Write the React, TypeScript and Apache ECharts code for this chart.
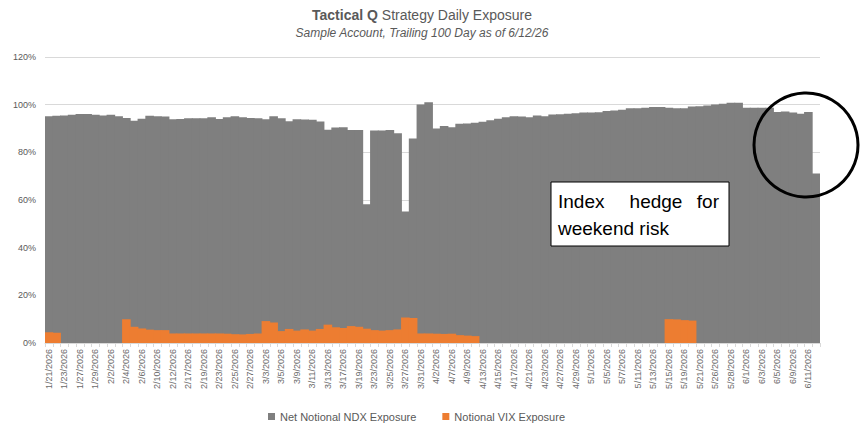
import React, { useEffect, useRef } from "react";
import * as echarts from "echarts";

const dates = [
  "1/21/2026","1/22/2026","1/23/2026","1/26/2026","1/27/2026","1/28/2026","1/29/2026","1/30/2026",
  "2/2/2026","2/3/2026","2/4/2026","2/5/2026","2/6/2026","2/9/2026","2/10/2026","2/11/2026","2/12/2026","2/13/2026",
  "2/17/2026","2/18/2026","2/19/2026","2/20/2026","2/23/2026","2/24/2026","2/25/2026","2/26/2026","2/27/2026",
  "3/2/2026","3/3/2026","3/4/2026","3/5/2026","3/6/2026","3/9/2026","3/10/2026","3/11/2026","3/12/2026","3/13/2026",
  "3/16/2026","3/17/2026","3/18/2026","3/19/2026","3/20/2026","3/23/2026","3/24/2026","3/25/2026","3/26/2026","3/27/2026",
  "3/30/2026","3/31/2026","4/1/2026","4/2/2026","4/6/2026","4/7/2026","4/8/2026","4/9/2026","4/10/2026",
  "4/13/2026","4/14/2026","4/15/2026","4/16/2026","4/17/2026","4/20/2026","4/21/2026","4/22/2026","4/23/2026","4/24/2026",
  "4/27/2026","4/28/2026","4/29/2026","4/30/2026","5/1/2026","5/4/2026","5/5/2026","5/6/2026","5/7/2026","5/8/2026",
  "5/11/2026","5/12/2026","5/13/2026","5/14/2026","5/15/2026","5/18/2026","5/19/2026","5/20/2026","5/21/2026","5/22/2026",
  "5/26/2026","5/27/2026","5/28/2026","5/29/2026","6/1/2026","6/2/2026","6/3/2026","6/4/2026","6/5/2026",
  "6/8/2026","6/9/2026","6/10/2026","6/11/2026","6/12/2026",
];

const ndxExposure = [
  95.1, 95.3, 95.5, 95.8, 96.1, 96.1, 95.8, 95.5, 95.8, 95.1,
  94.4, 93.3, 94.1, 95.4, 95.1, 95.0, 93.9, 94.0, 94.3, 94.3,
  94.3, 94.7, 94.0, 94.7, 95.1, 94.7, 94.4, 94.3, 93.9, 95.1,
  94.3, 93.0, 93.9, 93.8, 93.7, 92.9, 89.5, 90.4, 90.5, 89.4,
  89.4, 58.2, 89.2, 89.2, 89.4, 88.0, 55.2, 85.8, 100.1, 101.0,
  90.0, 91.0, 90.5, 92.0, 92.1, 92.4, 92.8, 93.5, 94.1, 94.7,
  95.1, 95.0, 94.7, 95.5, 95.1, 95.9, 96.0, 96.2, 96.4, 96.7,
  96.7, 96.8, 97.3, 97.6, 97.9, 98.5, 98.5, 98.7, 99.0, 99.0,
  98.7, 98.5, 98.5, 99.2, 99.3, 99.6, 100.1, 100.4, 100.8, 100.8,
  98.7, 98.7, 98.7, 98.7, 96.9, 97.1, 96.7, 96.2, 96.9, 71.1,
];

const vixExposure = [
  4.5, 4.3, 0, 0, 0, 0, 0, 0, 0, 0,
  10.0, 6.8, 6.1, 5.6, 5.4, 5.4, 4.0, 4.0, 4.0, 4.0,
  4.0, 4.0, 4.0, 3.9, 3.7, 3.6, 3.8, 4.0, 9.2, 8.6,
  5.0, 5.9, 5.2, 5.7, 5.2, 5.9, 7.7, 6.6, 6.3, 7.1,
  6.8, 6.0, 5.4, 5.2, 5.4, 5.7, 10.7, 10.5, 4.0, 4.0,
  3.9, 3.8, 3.9, 3.3, 3.1, 2.9, 0, 0, 0, 0,
  0, 0, 0, 0, 0, 0, 0, 0, 0, 0,
  0, 0, 0, 0, 0, 0, 0, 0, 0, 0,
  10.0, 9.9, 9.6, 9.4, 0, 0, 0, 0, 0, 0,
  0, 0, 0, 0, 0, 0, 0, 0, 0, 0,
];

const seriesNames = ["Net Notional NDX Exposure", "Notional VIX Exposure"];
const titleText = "{b|Tactical Q} Strategy Daily Exposure";
const subtitleText = "Sample Account, Trailing 100 Day as of 6/12/26";

const FONT = "'Liberation Sans', Arial, sans-serif";
const GRAY_TEXT = "#595959";

export default function App() {
  const ref = useRef<HTMLDivElement>(null);
  useEffect(() => {
    document.body.style.margin = "0";
    if (!ref.current) return;
    const chart = echarts.init(ref.current, null, { renderer: "svg" });
    chart.setOption({
      animation: false,
      backgroundColor: "#ffffff",
      textStyle: { fontFamily: FONT },
      title: {
        text: titleText,
        subtext: subtitleText,
        left: 417,
        textAlign: "center",
        top: 3,
        itemGap: 5,
        textStyle: {
          fontSize: 14,
          fontWeight: "normal",
          color: GRAY_TEXT,
          fontFamily: FONT,
          rich: {
            b: { fontSize: 14, fontWeight: "bold", color: GRAY_TEXT, fontFamily: FONT },
          },
        },
        subtextStyle: {
          fontSize: 12,
          fontStyle: "italic",
          color: GRAY_TEXT,
          fontFamily: FONT,
        },
      },
      legend: {
        data: seriesNames,
        top: 406,
        left: 263,
        icon: "rect",
        itemWidth: 7,
        itemHeight: 7,
        itemGap: 26,
        textStyle: { fontSize: 11, color: GRAY_TEXT, fontFamily: FONT },
      },
      grid: { left: 45, right: 46, top: 57, bottom: 97, containLabel: false },
      xAxis: {
        type: "category",
        data: dates,
        axisLine: { lineStyle: { color: "#d9d9d9" } },
        axisTick: { show: true, interval: 0, length: 4, lineStyle: { color: "#d9d9d9" } },
        axisLabel: {
          interval: 1,
          rotate: 90,
          fontSize: 9,
          color: "#6b6b6b",
          margin: 6,
          fontFamily: FONT,
        },
      },
      yAxis: {
        type: "value",
        min: 0,
        max: 120,
        interval: 20,
        axisLine: { show: false },
        axisTick: { show: false },
        splitLine: { lineStyle: { color: "#d9d9d9" } },
        axisLabel: {
          formatter: "{value}%",
          fontSize: 9,
          color: GRAY_TEXT,
          margin: 9,
          fontFamily: FONT,
        },
      },
      series: [
        {
          name: seriesNames[0],
          type: "bar",
          data: ndxExposure,
          barGap: "-100%",
          barWidth: 8.6,
          itemStyle: { color: "#7f7f7f" },
        },
        {
          name: seriesNames[1],
          type: "bar",
          data: vixExposure.map((v) => (v === 0 ? null : v)),
          barGap: "-100%",
          barWidth: 8.6,
          itemStyle: { color: "#ed7d31" },
        },
      ],
      graphic: [
        {
          type: "rect",
          z: 100,
          shape: { x: 551, y: 182, width: 178, height: 64 },
          style: { fill: "#ffffff", stroke: "#000000", lineWidth: 1 },
        },
        {
          type: "text",
          z: 101,
          x: 558,
          y: 201,
          style: { text: "Index", font: `19px ${FONT}`, fill: "#000", textAlign: "left", textVerticalAlign: "middle" },
        },
        {
          type: "text",
          z: 101,
          x: 656,
          y: 201,
          style: { text: "hedge", font: `19px ${FONT}`, fill: "#000", textAlign: "center", textVerticalAlign: "middle" },
        },
        {
          type: "text",
          z: 101,
          x: 719,
          y: 201,
          style: { text: "for", font: `19px ${FONT}`, fill: "#000", textAlign: "right", textVerticalAlign: "middle" },
        },
        {
          type: "text",
          z: 101,
          x: 558,
          y: 228,
          style: { text: "weekend risk", font: `19px ${FONT}`, fill: "#000", textAlign: "left", textVerticalAlign: "middle" },
        },
        {
          type: "circle",
          z: 102,
          shape: { cx: 806, cy: 145, r: 52 },
          style: { fill: "none", stroke: "#000000", lineWidth: 3 },
        },
      ],
    });
    return () => chart.dispose();
  }, []);
  return <div ref={ref} style={{ width: 866, height: 440 }} />;
}
